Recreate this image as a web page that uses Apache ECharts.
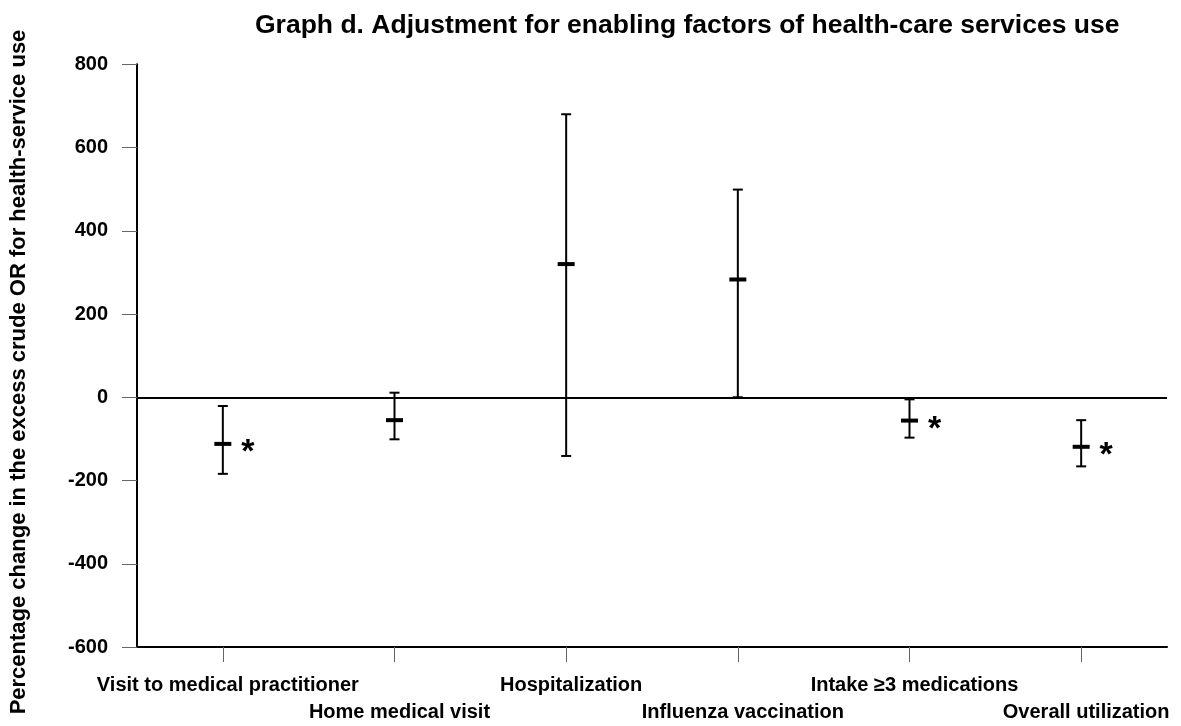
<!DOCTYPE html>
<html>
<head>
<meta charset="utf-8">
<script src="https://cdn.jsdelivr.net/npm/echarts@6/dist/echarts.min.js"></script>
<style>
html,body{margin:0;padding:0;background:#fff;}
#chart{width:1181px;height:726px;}
</style>
</head>
<body>
<div id="chart"></div>
<script>
const categories = ['Visit to medical practitioner', 'Home medical visit', 'Hospitalization', 'Influenza vaccination', 'Intake \u22653 medications', 'Overall utilization'];
const estimates = [-112, -55, 320, 283, -56, -119];
const lowerLimits = [-184, -101, -141, 0, -97, -166];
const upperLimits = [-21, 11, 680, 499, -5, -55];
const significant = [true, false, false, false, true, true];
const yTicks = [-600, -400, -200, 0, 200, 400, 600, 800];

const FONT = '"Liberation Sans", Arial, sans-serif';

const seriesData = categories.map((c, i) => [i, lowerLimits[i], estimates[i], upperLimits[i], significant[i] ? 1 : 0]);

function renderItem(params, api) {
  const x = api.value(0);
  const lo = api.coord([x, api.value(1)]);
  const mid = api.coord([x, api.value(2)]);
  const hi = api.coord([x, api.value(3)]);
  const sig = api.value(4);
  const cx = mid[0];
  const stroke = { stroke: '#000', lineWidth: 2 };
  const children = [
    { type: 'line', shape: { x1: cx, y1: hi[1], x2: cx, y2: lo[1] }, style: stroke },
    { type: 'line', shape: { x1: cx - 5, y1: hi[1], x2: cx + 5, y2: hi[1] }, style: stroke },
    { type: 'line', shape: { x1: cx - 5, y1: lo[1], x2: cx + 5, y2: lo[1] }, style: stroke },
    { type: 'rect', shape: { x: cx - 8.5, y: mid[1] - 2, width: 17, height: 4 }, style: { fill: '#000' } }
  ];
  if (sig) {
    children.push({
      type: 'text',
      style: {
        text: '*', x: cx + 25, y: mid[1] + 9,
        align: 'center', verticalAlign: 'middle',
        font: 'bold 34px ' + FONT, fill: '#000'
      }
    });
  }
  return { type: 'group', children: children };
}

const chart = echarts.init(document.getElementById('chart'), null, { renderer: 'canvas' });
chart.setOption({
  animation: false,
  backgroundColor: '#fff',
  title: {
    text: 'Graph d. Adjustment for enabling factors of health-care services use',
    left: 250, top: 7,
    textStyle: { fontFamily: FONT, fontWeight: 'bold', fontSize: 26.5, color: '#000' }
  },
  grid: { left: 137, right: 14, top: 64.3, bottom: 78, containLabel: false },
  xAxis: {
    type: 'category',
    data: categories,
    boundaryGap: true,
    axisLine: { show: true, onZero: false, lineStyle: { color: '#000', width: 2 } },
    axisTick: { show: true, alignWithLabel: true, length: 15, lineStyle: { color: '#666', width: 1 } },
    axisLabel: {
      interval: 0, margin: 25,
      fontFamily: FONT, fontWeight: 'bold', fontSize: 20, color: '#000', lineHeight: 27,
      padding: [0, 0, 0, 10],
      formatter: (v, i) => (i % 2 === 1 ? '\n' : '') + v
    },
    splitLine: { show: false }
  },
  yAxis: {
    type: 'value',
    min: yTicks[0], max: yTicks[yTicks.length - 1], interval: 200,
    axisLine: { show: true, lineStyle: { color: '#000', width: 2 } },
    axisTick: { show: true, length: 15, lineStyle: { color: '#666', width: 1 } },
    axisLabel: { margin: 29, fontFamily: FONT, fontWeight: 'bold', fontSize: 20, color: '#000' },
    splitLine: { show: false }
  },
  graphic: [{
    type: 'text',
    x: 19, y: 372, rotation: Math.PI / 2,
    style: {
      text: 'Percentage change in the excess crude OR for health-service use',
      align: 'center', verticalAlign: 'middle',
      font: 'bold 22px ' + FONT, fill: '#000'
    }
  }],
  series: [{
    type: 'custom',
    renderItem: renderItem,
    data: seriesData,
    encode: { x: 0, y: [1, 2, 3] },
    markLine: {
      silent: true, symbol: 'none',
      label: { show: false },
      lineStyle: { color: '#000', width: 2, type: 'solid' },
      data: [{ yAxis: 0 }]
    }
  }]
});
</script>
</body>
</html>
